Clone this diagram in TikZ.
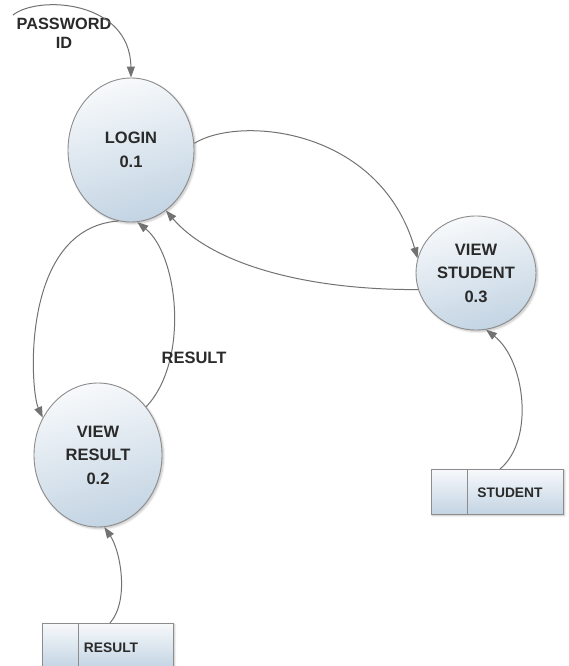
\documentclass[tikz,border=0pt]{standalone}
\usepackage{fontspec}
\setmainfont{Liberation Sans}
\usetikzlibrary{arrows.meta,shapes.geometric,shadows.blur}
\definecolor{procTop}{HTML}{F7F9FB}
\definecolor{procBot}{HTML}{C3D4E3}
\definecolor{edgeGray}{HTML}{727272}
\definecolor{rimGray}{HTML}{8C8C8C}
\definecolor{inkGray}{HTML}{2A2A2A}
\tikzset{
  process/.style={ellipse, draw=rimGray, line width=0.9pt, inner sep=0pt,
    top color=procTop, bottom color=procBot, shading angle=15,
    blur shadow={shadow xshift=1.5pt, shadow yshift=-1.5pt, shadow blur steps=6, shadow opacity=25},
    font=\bfseries\fontsize{16.5}{23.5}\selectfont, text=inkGray, align=center},
  store/.style={rectangle, draw=rimGray, line width=0.9pt, inner sep=0pt,
    top color=procTop, bottom color=procBot,
    blur shadow={shadow xshift=1.5pt, shadow yshift=-1.5pt, shadow blur steps=6, shadow opacity=25}},
  storetext/.style={font=\bfseries\fontsize{13.8}{16}\selectfont, text=inkGray},
  flow/.style={draw=edgeGray, line width=1pt,
    -{Triangle[length=11pt,width=8pt]}, color=edgeGray},
  flowlabel/.style={font=\bfseries\fontsize{16.5}{19}\selectfont, text=inkGray}
}
\begin{document}
\begin{tikzpicture}[x=1pt,y=-1pt]
\useasboundingbox (0,0) rectangle (568,666);

% processes
\node[process, minimum width=126pt, minimum height=144pt] (login) at (131,150) {LOGIN\\0.1};
\node[process, minimum width=128pt, minimum height=144pt] (vres) at (98,455) {VIEW\\RESULT\\0.2};
\node[process, minimum width=120pt, minimum height=114pt] (vstu) at (476,273) {VIEW\\STUDENT\\0.3};

% data stores
\node[store, minimum width=132pt, minimum height=45pt] (sstu) at (497,491.5) {};
\draw[rimGray, line width=0.9pt] (467,469) -- (467,514);
\node[storetext] (sstutext) at (510,493) {STUDENT};

\node[store, minimum width=131pt, minimum height=45pt] (sres) at (107.5,645.5) {};
\draw[rimGray, line width=0.9pt] (78,623) -- (78,668);
\node[storetext] (srestext) at (111,648) {RESULT};

% external input label
\node[flowlabel, align=center, font=\bfseries\fontsize{16.3}{19}\selectfont] (pw) at (64,33) {PASSWORD\\ID};
\coordinate (pwstart) at (13,15);

% data flows
\draw[flow] (pwstart) .. controls (38,-5) and (130,0) .. (login.north);
\draw[flow] (login.6) .. controls (240,115) and (380,128) .. (vstu.166);
\draw[flow] (vstu.196) .. controls (300,290) and (210,262) .. (login.-60);
\draw[flow] (login.-100) .. controls (20,228) and (30,390) .. (vres.146);
\draw[flow] (vres.45) .. controls (190,360) and (178,255) .. (login.-85);
\node[flowlabel] (reslabel) at (194,358) {RESULT};
\coordinate (sresout) at (110,623);
\draw[flow] (sresout) .. controls (130,600) and (120,550) .. (vres.-85);
\coordinate (sstuout) at (500,469);
\draw[flow] (sstuout) .. controls (535,440) and (525,360) .. (vstu.-80);
\end{tikzpicture}
\end{document}
